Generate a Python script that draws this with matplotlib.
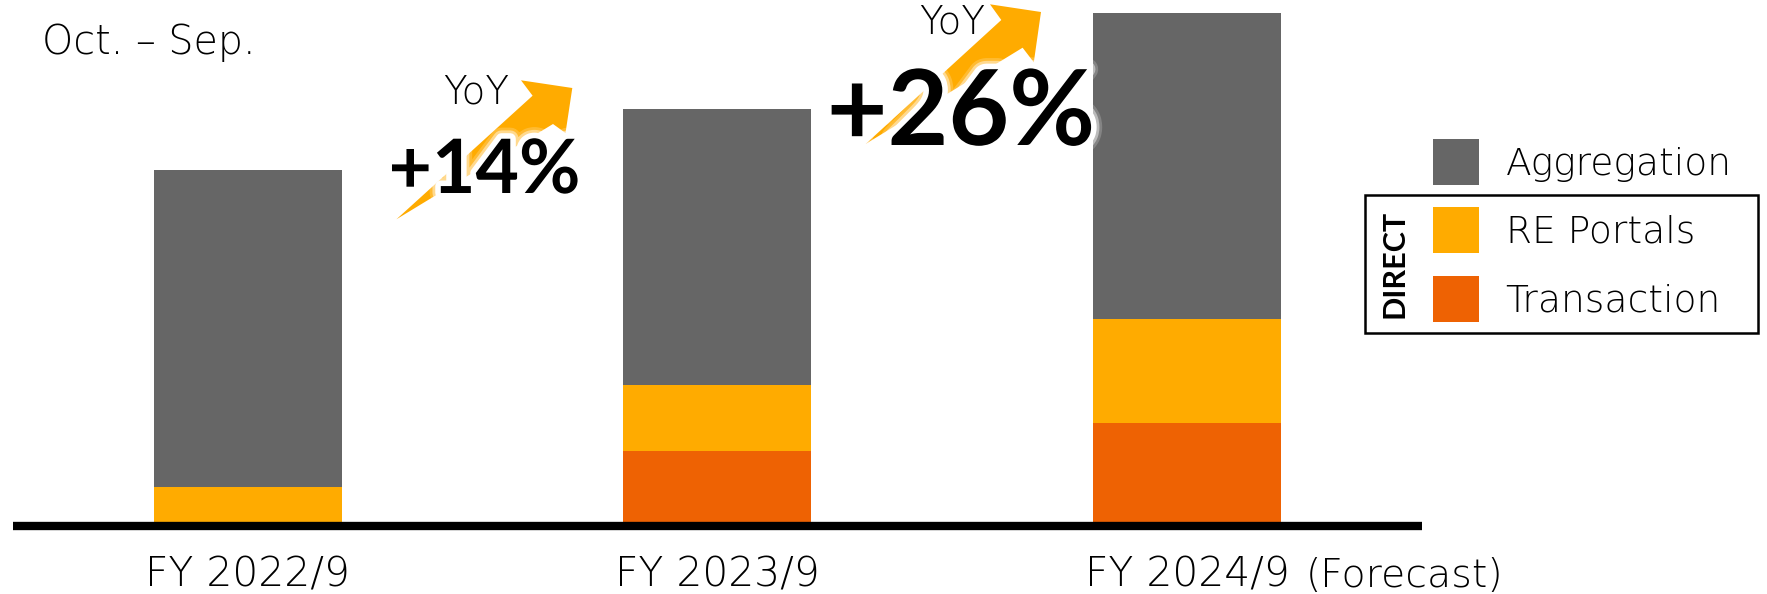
import matplotlib
matplotlib.use("Agg")
import matplotlib.patheffects as pe
import matplotlib.pyplot as plt
from matplotlib.patches import Polygon, Rectangle

W, H = 1767, 594
DPI = 100

# segment heights, stacked bottom to top
YEARS = ["FY 2022/9", "FY 2023/9", "FY 2024/9"]
TRANSACTION = [0, 71, 99]
RE_PORTALS = [35, 66, 104]
AGGREGATION = [317, 276, 306]

SEGMENTS = ["Aggregation", "RE Portals", "Transaction"]
GROWTH = ["+14%", "+26%"]

GREY = "#666666"
AMBER = "#FFAB00"
ORANGE = "#EE6203"

LIGHT = dict(family="DejaVu Sans", weight=200, color="black")

# fuzzy white halo behind the big percentages
GLOW = [
    pe.Stroke(linewidth=16, foreground="white", alpha=0.2),
    pe.Stroke(linewidth=12, foreground="white", alpha=0.45),
    pe.Stroke(linewidth=8, foreground="white"),
    pe.Normal(),
]

fig = plt.figure(figsize=(W / DPI, H / DPI), dpi=DPI, facecolor="white")

# bars: axes runs from the left end of the base line to its right end
top_px, bottom_px = 13, 530.7
ax = fig.add_axes([12.8 / W, 1 - bottom_px / H, (1422 - 12.8) / W, (bottom_px - top_px) / H])
x = range(len(YEARS))
ax.bar(x, TRANSACTION, width=0.4, color=ORANGE)
ax.bar(x, RE_PORTALS, width=0.4, bottom=TRANSACTION, color=AMBER)
base = [a + b for a, b in zip(TRANSACTION, RE_PORTALS)]
ax.bar(x, AGGREGATION, width=0.4, bottom=base, color=GREY)
ax.axhline(-4.2, color="black", linewidth=6)
ax.set_xlim(-0.5, 2.5)
ax.set_ylim(-8.4, 509)
ax.set_yticks([])
ax.set_xticks(list(x))
ax.set_xticklabels(YEARS, fontsize=29.3, **LIGHT)
ax.tick_params(axis="x", length=0, pad=18)
for side in ax.spines.values():
    side.set_visible(False)

# annotations live in a full-figure overlay measured in pixels
ov = fig.add_axes([0, 0, 1, 1], facecolor="none")
ov.set_xlim(0, W)
ov.set_ylim(H, 0)
ov.axis("off")

arrow_a = [(396.4, 219.3), (532.6, 95.7), (521, 80.3), (572.3, 88), (565.5, 133), (553, 124)]
arrow_b = [(865.6, 144), (1001.3, 20), (990, 4.3), (1041, 12), (1033.8, 62.3), (1022.6, 47.7)]
ov.add_patch(Polygon(arrow_a, closed=True, color=AMBER, lw=0))
ov.add_patch(Polygon(arrow_b, closed=True, color=AMBER, lw=0))

ov.text(476, 104, "YoY", fontsize=28, ha="center", va="baseline", **LIGHT)
ov.text(952, 33, "YoY", fontsize=28, ha="center", va="baseline", **LIGHT)
ov.text(484.5, 193, GROWTH[0], fontsize=54, family="Lato", weight="bold", ha="center",
        va="baseline", path_effects=GLOW)
ov.text(961, 145, GROWTH[1], fontsize=75.5, family="Lato", weight="bold", ha="center",
        va="baseline", path_effects=GLOW)

ov.text(42, 54, "Oct. – Sep.", fontsize=28.5, ha="left", va="baseline", **LIGHT)
ov.text(1306, 587, "(Forecast)", fontsize=28.4, ha="left", va="baseline", **LIGHT)

# legend
ov.add_patch(Rectangle((1365, 195.3), 393, 137.7, fill=False, edgecolor="black", linewidth=1.8))
ov.text(1394, 264, "DIRECT", fontsize=22, family="Lato", weight="bold", rotation=90,
        ha="center", va="center")
swatch_tops = [139, 207, 276]
baselines = [175, 242.7, 311.7]
for name, colour, y0, yb in zip(SEGMENTS, [GREY, AMBER, ORANGE], swatch_tops, baselines):
    ov.add_patch(Rectangle((1433, y0), 46, 46, color=colour, lw=0))
    ov.text(1505.5, yb, name, fontsize=27, ha="left", va="baseline", **LIGHT)

fig.savefig("out.png", dpi=DPI)
plt.close()
